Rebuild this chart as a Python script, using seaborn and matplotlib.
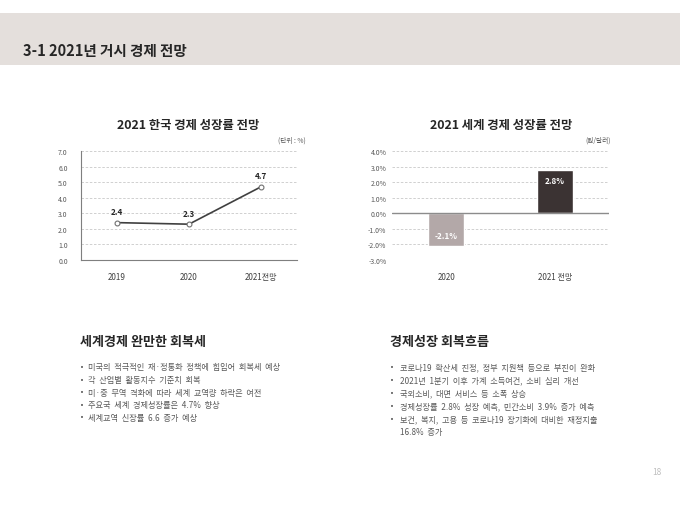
import matplotlib
matplotlib.use("Agg")
import matplotlib.pyplot as plt
import seaborn as sns
from matplotlib.patches import Rectangle

# ---------------- data ----------------
kr_years = ["2019", "2020", "2021전망"]
kr_growth = [2.4, 2.3, 4.7]
kr_yticks = [0, 1, 2, 3, 4, 5, 6, 7]

world_years = ["2020", "2021 전망"]
world_growth = [-2.1, 2.8]
world_colors = ["#b3a8a8", "#3b3333"]
world_yticks = [-3, -2, -1, 0, 1, 2, 3, 4]

page_title = "3-1 2021년 거시 경제 전망"
kr_title = "2021 한국 경제 성장률 전망"
world_title = "2021 세계 경제 성장률 전망"
kr_unit = "(단위 : %)"
world_unit = "(원/달러)"

left_heading = "세계경제 완만한 회복세"
left_bullets = [
    "미국의 적극적인 재·정통화 정책에 힘입어 회복세 예상",
    "각 산업별 활동지수 기준치 회복",
    "미·중 무역 격화에 따라 세계 교역량 하락은 여전",
    "주요국 세계 경제성장률은 4.7% 향상",
    "세계교역 신장률 6.6 증가 예상",
]
right_heading = "경제성장 회복흐름"
right_bullets = [
    ["코로나19 확산세 진정, 정부 지원책 등으로 부진이 완화"],
    ["2021년 1분기 이후 가계 소득여건, 소비 심리 개선"],
    ["국외소비, 대면 서비스 등 소폭 상승"],
    ["경제성장률 2.8% 성장 예측, 민간소비 3.9% 증가 예측"],
    ["보건, 복지, 고용 등 코로나19 장기화에 대비한 재정지출", "16.8% 증가"],
]
page_no = "18"

# ---------------- style ----------------
sns.set_style("white")
plt.rcParams["font.family"] = ["Noto Sans CJK KR", "DejaVu Sans"]

W, H = 680, 510
fig = plt.figure(figsize=(W / 100, H / 100), dpi=100)


def fx(x):
    return x / W


def fy(y):
    return 1 - y / H


def wide(s):
    # Noto CJK spaces are narrow; widen them to match the reference spacing
    return s.replace(" ", "  ")


# header band
fig.patches.append(Rectangle((0, fy(66)), 1, (66 - 14) / H, transform=fig.transFigure,
                             facecolor="#e4dfdc", edgecolor="none", zorder=0))
fig.text(fx(23), fy(51), page_title, fontsize=10.5, fontweight="bold",
         color="#262626", va="center", ha="left")

tick_color = "#595959"
grid_color = "#c9c9c9"

# ---------------- left chart ----------------
ax1 = fig.add_axes([fx(81), fy(261), (297 - 81) / W, (261 - 152) / H])
sns.pointplot(x=kr_years, y=kr_growth, ax=ax1, color="#404040", markers="o",
              linestyles="-", markersize=3.5, linewidth=1.2,
              markerfacecolor="white", markeredgecolor="#707070", markeredgewidth=0.8)
ax1.set_xlim(-0.5, len(kr_years) - 0.5)
ax1.set_ylim(kr_yticks[0], kr_yticks[-1])
ax1.set_yticks(kr_yticks)
ax1.set_yticklabels([f"{v:.1f}" for v in kr_yticks])
for y in kr_yticks[1:]:
    ax1.axhline(y, color=grid_color, linestyle=(0, (3, 2)), linewidth=0.6, zorder=0)
for i, v in enumerate(kr_growth):
    ax1.text(i, v + 0.7, f"{v:.1f}", ha="center", va="center", fontsize=5.8,
             fontweight="bold", color="#262626")
for s in ["top", "right"]:
    ax1.spines[s].set_visible(False)
for s in ["left", "bottom"]:
    ax1.spines[s].set_color("#7f7f7f")
    ax1.spines[s].set_linewidth(0.8)
ax1.tick_params(axis="y", length=0, labelsize=5, colors=tick_color, pad=9.5)
ax1.tick_params(axis="x", length=0, labelsize=5.8, colors="#404040", pad=9)
ax1.set_xlabel("")
ax1.set_ylabel("")
fig.text(fx(188), fy(125), kr_title, fontsize=8.9, fontweight="bold", color="#262626",
         ha="center", va="center")
fig.text(fx(306), fy(141), kr_unit, fontsize=4.8, color="#595959", ha="right", va="center")

# ---------------- right chart ----------------
ax2 = fig.add_axes([fx(392), fy(261), (609 - 392) / W, (261 - 152) / H])
sns.barplot(x=world_years, y=world_growth, hue=world_years, palette=world_colors,
            legend=False, ax=ax2, width=0.33, saturation=1, zorder=2)
ax2.set_xlim(-0.5, len(world_years) - 0.5)
ax2.set_ylim(world_yticks[0], world_yticks[-1])
ax2.set_yticks(world_yticks)
ax2.set_yticklabels([f"{v:.1f}%" for v in world_yticks])
for y in world_yticks:
    if y == 0:
        ax2.axhline(0, color="#8c8c8c", linewidth=1.0, zorder=3)
    else:
        ax2.axhline(y, color=grid_color, linestyle=(0, (3, 2)), linewidth=0.6, zorder=0)
for i, v in enumerate(world_growth):
    off = 0.7 if v > 0 else -0.65
    ax2.text(i, v - off, f"{v:.1f}%", ha="center", va="center", fontsize=5.8,
             fontweight="bold", color="white", zorder=4)
for s in ["top", "right", "left", "bottom"]:
    ax2.spines[s].set_visible(False)
ax2.tick_params(axis="y", length=0, labelsize=5, colors=tick_color, pad=4)
ax2.tick_params(axis="x", length=0, labelsize=5.8, colors="#404040", pad=9)
ax2.set_xlabel("")
ax2.set_ylabel("")
fig.text(fx(501), fy(125), world_title, fontsize=8.9, fontweight="bold", color="#262626",
         ha="center", va="center")
fig.text(fx(611), fy(141), world_unit, fontsize=4.8, color="#595959", ha="right", va="center")

# ---------------- text blocks ----------------
fig.text(fx(80), fy(342), left_heading, fontsize=9.4, fontweight="bold", color="#262626",
         ha="left", va="center")
y = 368
for line in left_bullets:
    fig.text(fx(80), fy(y), "•", fontsize=5, color="#595959", ha="left", va="center",
             family="DejaVu Sans")
    fig.text(fx(88), fy(y), wide(line), fontsize=5.9, color="#595959", ha="left", va="center")
    y += 12.6

fig.text(fx(390), fy(342), right_heading, fontsize=9.4, fontweight="bold", color="#262626",
         ha="left", va="center")
y = 368
for lines in right_bullets:
    fig.text(fx(390), fy(y), "•", fontsize=5, color="#595959", ha="left", va="center",
             family="DejaVu Sans")
    for ln in lines:
        fig.text(fx(400), fy(y), wide(ln), fontsize=5.9, color="#595959", ha="left", va="center")
        y += 12.9

fig.text(fx(657), fy(473), page_no, fontsize=6, color="#bfbfbf", ha="center", va="center")

fig.savefig("out.png", dpi=100, facecolor="white")
